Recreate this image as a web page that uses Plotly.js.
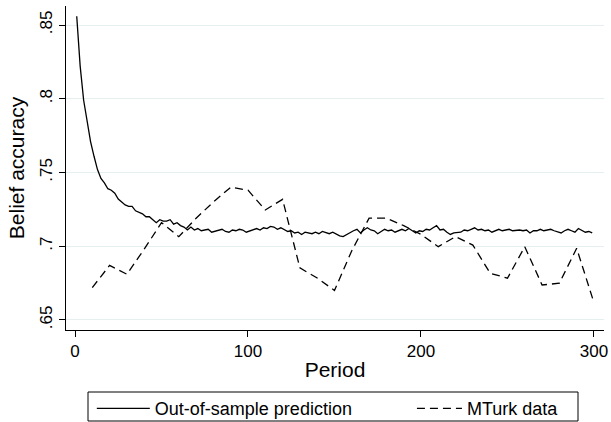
<!DOCTYPE html>
<html>
<head>
<meta charset="utf-8">
<script src="https://cdn.plot.ly/plotly-3.0.1.min.js"></script>
<style>html,body{margin:0;padding:0;background:#fff;}#chart{width:611px;height:422px;}</style>
</head>
<body>
<div id="chart"></div>
<script>
// Out-of-sample prediction (every 2 periods)
const predPeriods = [1,3,5,7,9,11,13,15,17,19,21,23,25,27,29,31,33,35,37,39,41,43,45,47,49,51,53,55,57,59,61,63,65,67,69,71,
73,75,77,79,81,83,85,87,89,91,93,95,97,99,101,103,105,107,109,111,113,115,117,119,121,123,125,
127,129,131,133,135,137,139,141,143,145,147,149,151,153,155,157,159,
161,163,165,167,169,171,173,175,177,179,181,183,185,187,189,
191,193,195,197,199,201,203,205,207,209,211,213,215,217,219,221,223,225,
227,229,231,233,235,237,239,241,243,245,247,249,251,253,255,257,259,
261,263,265,267,269,271,273,275,277,279,281,283,285,287,289,291,293,295,297,299];
const predValues = [.856,.822,.799,.784,.771,.761,.752,.746,.743,.739,.738,.736,.732,.730,.728,.727,.727,.724,.723,.722,.720,.720,.718,.716,.718,.717,.717,.718,.715,.716,.714,.713,.711,.713,.711,.712,
.7105,.711,.7115,.7095,.710,.7105,.7115,.710,.7095,.711,.7105,.7115,.711,.7095,.7105,.7115,.712,.711,.7125,.712,.7135,.713,.7115,.7125,.7115,.710,.7105,
.709,.7095,.708,.7095,.709,.7085,.7095,.7085,.710,.709,.7085,.7095,.708,.707,.7065,.708,.7095,
.7105,.7115,.709,.711,.7125,.711,.7105,.7085,.710,.7115,.7105,.711,.7095,.7105,.7115,
.7105,.712,.7105,.709,.7105,.710,.7115,.711,.7125,.714,.711,.7115,.7095,.708,.709,.7095,.7095,.711,
.7105,.7115,.7125,.711,.7115,.7105,.711,.7095,.7105,.7115,.7105,.711,.7115,.7105,.711,.711,.7105,
.711,.709,.7105,.7105,.7115,.7105,.711,.7115,.7105,.7095,.709,.7105,.7115,.7105,.7095,.712,.7105,.7095,.710,.709];

// MTurk data
const mturkPeriods = [10,20,30,40,50,60,70,80,90,100,110,120,130,140,150,160,170,180,190,200,210,220,230,240,250,260,270,280,290,300];
const mturkValues = [.672,.687,.681,.698,.716,.7065,.719,.730,.740,.738,.7246,.7318,.6853,.6785,.670,.697,.719,.719,.714,.708,.6997,.7065,.7008,.6817,.6783,.6997,.6737,.6749,.6986,.6617];

const yTickVals = [0.65,0.7,0.75,0.8,0.85];
const yTickText = ['.65','.7','.75','.8','.85'];
const xTickVals = [0,100,200,300];

const font = 'Liberation Sans, Arial, Helvetica, sans-serif';

const traces = [
  {x: predPeriods, y: predValues, type: 'scatter', mode: 'lines', name: 'Out-of-sample prediction',
   line: {color: '#000', width: 1.3}, legend: 'legend'},
  {x: mturkPeriods, y: mturkValues, type: 'scatter', mode: 'lines', name: 'MTurk data',
   line: {color: '#000', width: 1.3, dash: '8px,5px'}, legend: 'legend2'}
];

const legendFont = {family: font, size: 18, color: '#000'};

const layout = {
  width: 611, height: 422,
  margin: {l: 66, r: 7, t: 6, b: 92, autoexpand: false},
  paper_bgcolor: '#fff', plot_bgcolor: '#fff',
  font: {family: font, color: '#000', size: 17},
  showlegend: true,
  legend: {orientation: 'h', x: 0.048, xanchor: 'left', y: -0.186, yanchor: 'top',
           borderwidth: 0, bgcolor: 'rgba(0,0,0,0)', font: legendFont, itemwidth: 53},
  legend2: {orientation: 'h', x: 0.643, xanchor: 'left', y: -0.186, yanchor: 'top',
           borderwidth: 0, bgcolor: 'rgba(0,0,0,0)', font: legendFont, itemwidth: 45},
  shapes: [{type: 'rect', xref: 'paper', yref: 'paper', x0: 0.0409, x1: 0.9517, y0: -0.1914, y1: -0.2809,
            line: {color: '#000', width: 1}, fillcolor: 'rgba(0,0,0,0)', layer: 'below'}],
  xaxis: {range: [-5.2, 305.8], tickvals: xTickVals, ticks: 'outside', ticklen: 6, tickcolor: '#000',
          showline: true, linecolor: '#000', linewidth: 1, showgrid: false, zeroline: false,
          tickfont: {size: 17}, title: {text: 'Period', font: {size: 21}, standoff: 1}},
  yaxis: {range: [0.6432, 0.8629], tickvals: yTickVals, ticktext: yTickText, tickangle: -90,
          ticks: 'outside', ticklen: 6, tickcolor: '#000',
          showline: true, linecolor: '#000', linewidth: 1, showgrid: true, gridcolor: '#e6eff0', gridwidth: 1,
          zeroline: false, tickfont: {size: 17},
          title: {text: 'Belief accuracy', font: {size: 21}, standoff: 6}}
};

Plotly.newPlot('chart', traces, layout, {staticPlot: true, displayModeBar: false});
</script>
</body>
</html>
